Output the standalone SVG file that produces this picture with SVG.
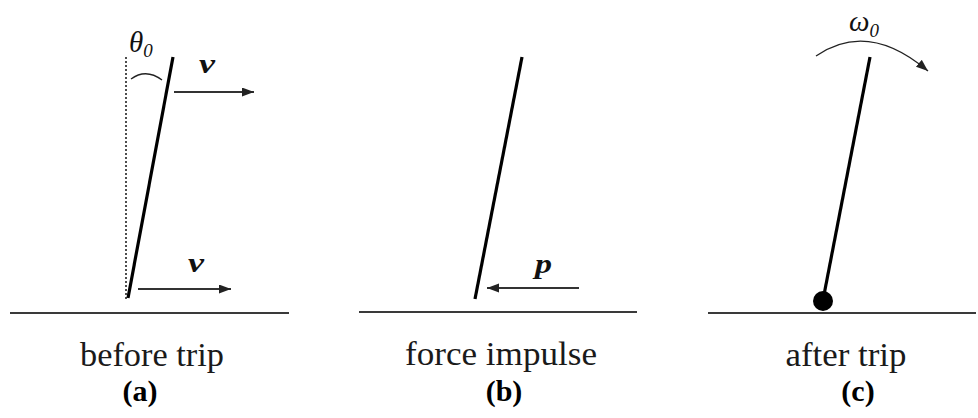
<svg xmlns="http://www.w3.org/2000/svg" width="978" height="418" viewBox="0 0 978 418">
<style>
.rod{stroke:#000;stroke-width:3.2;stroke-linecap:butt;fill:none}
.ground{stroke:#3a3a3a;stroke-width:2;fill:none}
.arr{stroke:#333;stroke-width:2;fill:none}
.thin{stroke:#222;stroke-width:1.3;fill:none}
.dash{stroke:#222;stroke-width:1.6;stroke-dasharray:2 2;fill:none}
.cap{font-size:34px;fill:#1a1a1a;text-anchor:middle}
.tag{font-size:30px;font-weight:bold;fill:#000;text-anchor:middle}
.sym{font-style:italic;font-weight:bold;font-size:28px;fill:#111}
.greek{font-style:italic;font-size:29px;fill:#111}
.sub{font-size:19px}
</style>
<defs>
<marker id="ah" markerUnits="userSpaceOnUse" markerWidth="13" markerHeight="10" refX="12" refY="4.5" orient="auto">
<path d="M0,0 L12,4.5 L0,9 z" fill="#222"/>
</marker>
</defs>
<g id="panel-a" font-family="'Liberation Serif', 'DejaVu Serif', serif">
<line class="dash" x1="126" y1="57" x2="126" y2="300"/>
<line class="rod" x1="173" y1="57" x2="128" y2="298"/>
<path class="thin" d="M131,79 Q146,68 162,80"/>
<text class="greek" x="129" y="52">θ<tspan class="sub" dy="5">0</tspan></text>
<text class="sym" x="199" y="73" textLength="16" lengthAdjust="spacingAndGlyphs">v</text>
<text class="sym" x="188" y="272" textLength="16" lengthAdjust="spacingAndGlyphs">v</text>
<line class="ground" x1="10" y1="313" x2="289" y2="313"/>
<text class="cap" x="152" y="366" textLength="144" lengthAdjust="spacingAndGlyphs">before trip</text>
<text class="tag" x="140" y="401">(a)</text>
</g>
<g id="panel-b" font-family="'Liberation Serif', 'DejaVu Serif', serif">
<line class="rod" x1="522" y1="57" x2="475" y2="299"/>
<text class="sym" x="535" y="273" textLength="17" lengthAdjust="spacingAndGlyphs">p</text>
<line class="ground" x1="359" y1="312" x2="637" y2="312"/>
<text class="cap" x="501" y="365" textLength="192" lengthAdjust="spacingAndGlyphs">force impulse</text>
<text class="tag" x="504" y="401">(b)</text>
</g>
<g id="panel-c" font-family="'Liberation Serif', 'DejaVu Serif', serif">
<line class="rod" x1="870" y1="57" x2="823" y2="300"/>
<circle cx="823" cy="301" r="10" fill="#000"/>
<text class="greek" x="849" y="31">ω<tspan class="sub" dy="6">0</tspan></text>
<line class="ground" x1="708" y1="313" x2="976" y2="313"/>
<text class="cap" x="846" y="366" textLength="121" lengthAdjust="spacingAndGlyphs">after trip</text>
<text class="tag" x="858" y="401">(c)</text>
</g>
<g id="connectors">
<line class="arr" x1="174" y1="92" x2="254" y2="92" marker-end="url(#ah)"/>
<line class="arr" x1="138" y1="289" x2="231" y2="289" marker-end="url(#ah)"/>
<line class="arr" x1="579" y1="288" x2="487" y2="288" marker-end="url(#ah)"/>
<path class="thin" d="M816,56 Q868,20 928,71" marker-end="url(#ah)"/>
</g>
</svg>
